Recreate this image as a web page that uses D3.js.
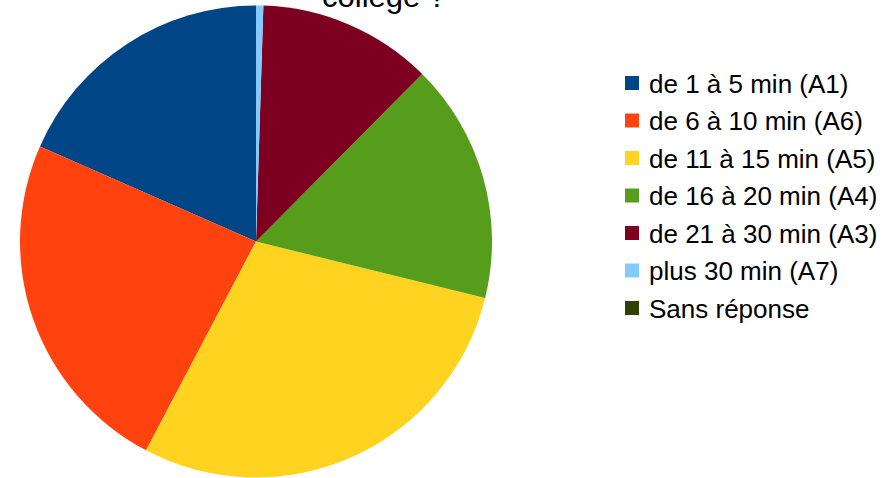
<!DOCTYPE html>
<html>
<head>
<meta charset="utf-8">
<script src="https://cdn.jsdelivr.net/npm/d3@7"></script>
<style>
  body { margin: 0; background: #fff; }
  svg { display: block; }
</style>
</head>
<body>
<div id="chart"></div>
<script>
// chart settings
var width = 891,
    height = 478;

// data - counts
var categories = ["de 1 à 5 min (A1)", "de 6 à 10 min (A6)", "de 11 à 15 min (A5)",
                  "de 16 à 20 min (A4)", "de 21 à 30 min (A3)", "plus 30 min (A7)", "Sans réponse"];
var counts = [37, 48, 58, 33, 24, 1, 0];
var colors = ["#004586", "#ff420e", "#ffd320", "#579d1c", "#7e0021", "#83caff", "#314004"];
var title_tail = "collège ?";

var cx = 256, cy = 241.5, radius = 236;

var svg = d3.select("#chart")
  .append("svg")
    .attr("width", width)
    .attr("height", height);

var data = categories.map(function(c, i) {
    return {name: c, value: counts[i], color: colors[i]};
});

// libreoffice goes counter-clockwise from 12 o'clock
var pie = d3.pie()
    .sort(null)
    .startAngle(0)
    .endAngle(-2 * Math.PI)
    .value(function(d) { return d.value; });

var arc = d3.arc().innerRadius(0).outerRadius(radius);

svg.append("g")
    .attr("transform", "translate(" + cx + "," + cy + ")")
  .selectAll("path")
    .data(pie(data))
    .enter()
    .append("path")
    .attr("d", arc)
    .attr("fill", function(d) { return d.data.color; });

// title (only the last line shows)
svg.append("text")
    .attr("x", 322)
    .attr("y", 7)
    .attr("font-family", "Liberation Sans, Arial, sans-serif")
    .attr("font-size", 31)
    .attr("fill", "#000")
    .text(title_tail);

// legend
var legend = svg.append("g")
    .attr("transform", "translate(625,76)");

var rows = legend.selectAll("g")
    .data(data)
    .enter()
    .append("g")
    .attr("transform", function(d, i) { return "translate(0," + (i * 37.5) + ")"; });

rows.append("rect")
    .attr("width", 14)
    .attr("height", 14)
    .attr("fill", function(d) { return d.color; });

rows.append("text")
    .attr("x", 24)
    .attr("y", 16.5)
    .attr("font-family", "Liberation Sans, Arial, sans-serif")
    .attr("font-size", 26)
    .attr("fill", "#000")
    .text(function(d) { return d.name; });
</script>
</body>
</html>
